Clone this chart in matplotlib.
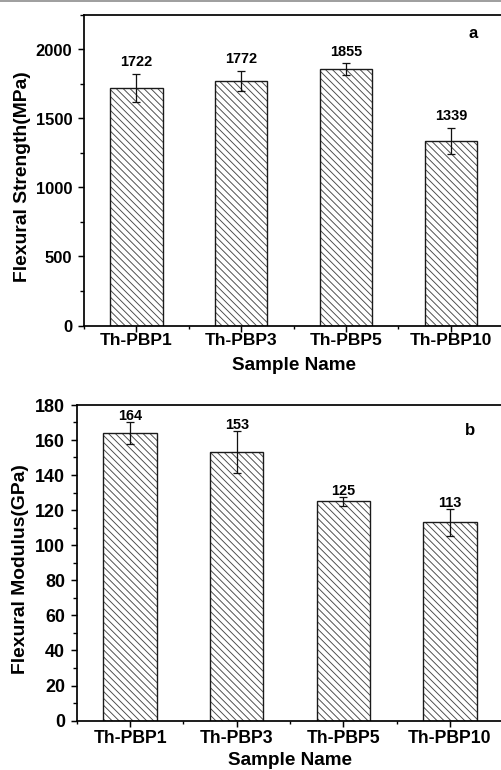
import matplotlib
matplotlib.use("Agg")
import matplotlib.pyplot as plt
from matplotlib.ticker import MultipleLocator, FixedLocator, NullFormatter
from matplotlib.patches import Rectangle

# ---- data ----
samples = ["Th-PBP1", "Th-PBP3", "Th-PBP5", "Th-PBP10"]
strength = [1722, 1772, 1855, 1339]
strength_err = [102, 72, 43, 94]
modulus = [164, 153, 125, 113]
modulus_err = [6.3, 12, 2.4, 7.7]

DPI = 83
W, H = 501, 770
HATCH = "\\" * 4
plt.rcParams["font.family"] = ["Liberation Sans", "DejaVu Sans"]
plt.rcParams["font.weight"] = "bold"
plt.rcParams["hatch.linewidth"] = 0.8

fig = plt.figure(figsize=((W + 0.3) / DPI, (H + 0.3) / DPI), dpi=DPI)
fig.patch.set_facecolor("white")

# thin grey rule across the top edge
fig.add_artist(Rectangle((0, 1 - 2.2 / H), 1, 2.2 / H, transform=fig.transFigure,
                         facecolor="#a0a0a0", edgecolor="none"))


def px_axes(left, right, top, bottom):
    return fig.add_axes([left / W, (H - bottom) / H, (right - left) / W, (bottom - top) / H])


def panel(ax, values, errs, ylim, major, minor, ylabel, letter, letter_xy,
          ytick_fs, xtick_fs, xpad, lab_gap, ylab_x):
    x = list(range(1, len(samples) + 1))
    # hatched fill in grey, then a dark outline on top
    ax.bar(x, values, width=0.5, facecolor="white", edgecolor="#4a4a4a",
           linewidth=0, hatch=HATCH, zorder=2)
    ax.bar(x, values, width=0.5, facecolor="none", edgecolor="#1a1a1a",
           linewidth=1.2, zorder=2.5)
    ax.errorbar(x, values, yerr=errs, fmt="none", ecolor="#111111",
                elinewidth=1.1, capsize=3.2, capthick=1.1, zorder=3)
    for xi, v, e in zip(x, values, errs):
        ax.annotate(f"{v}", (xi, v + e), xytext=(0, lab_gap), textcoords="offset points",
                    ha="center", va="baseline", fontsize=12.6, fontweight="bold")
    ax.set_xlim(0.5, 4.5)
    ax.set_ylim(*ylim)
    ax.yaxis.set_major_locator(MultipleLocator(major))
    ax.yaxis.set_minor_locator(MultipleLocator(minor))
    ax.xaxis.set_major_locator(FixedLocator(x))
    ax.xaxis.set_minor_locator(FixedLocator([0.5, 1.5, 2.5, 3.5, 4.5]))
    ax.xaxis.set_minor_formatter(NullFormatter())
    ax.set_xticklabels(samples)
    ax.tick_params(axis="y", which="major", direction="out", length=5.2, width=1.3,
                   labelsize=ytick_fs, pad=5)
    ax.tick_params(axis="y", which="minor", direction="out", length=3.4, width=1.2)
    ax.tick_params(axis="x", which="major", direction="out", length=5.0, width=1.3,
                   labelsize=xtick_fs, pad=xpad)
    ax.tick_params(axis="x", which="minor", direction="out", length=3.0, width=1.2)
    for lab in ax.get_xticklabels() + ax.get_yticklabels():
        lab.set_fontweight("bold")
    for sp in ax.spines.values():
        sp.set_linewidth(1.5)
    ax.set_ylabel(ylabel, fontsize=16.7, fontweight="bold", va="center")
    ax.yaxis.set_label_coords(ylab_x, 0.48)
    ax.set_xlabel("Sample Name", fontsize=16.4, fontweight="bold", va="center")
    ax.text(letter_xy[0], letter_xy[1], letter, transform=ax.transAxes,
            ha="center", va="center", fontsize=14.5, fontweight="bold")


ax_a = px_axes(84, 503, 15, 325.7)
panel(ax_a, strength, strength_err, (0, 2250), 500, 250, "Flexural Strength(MPa)",
      "a", (0.928, 0.939), 14.3, 15.1, 1.3, 6.9, -0.146)
ax_a.xaxis.set_label_coords(0.5, -0.129)

ax_b = px_axes(76.7, 503, 405, 720.7)
panel(ax_b, modulus, modulus_err, (0, 180), 20, 10, "Flexural Modulus(GPa)",
      "b", (0.9226, 0.9186), 15.5, 15.3, 2.6, 2.2, -0.131)
ax_b.xaxis.set_label_coords(0.5, -0.1245)

fig.savefig("out.png", dpi=DPI, facecolor="white")
